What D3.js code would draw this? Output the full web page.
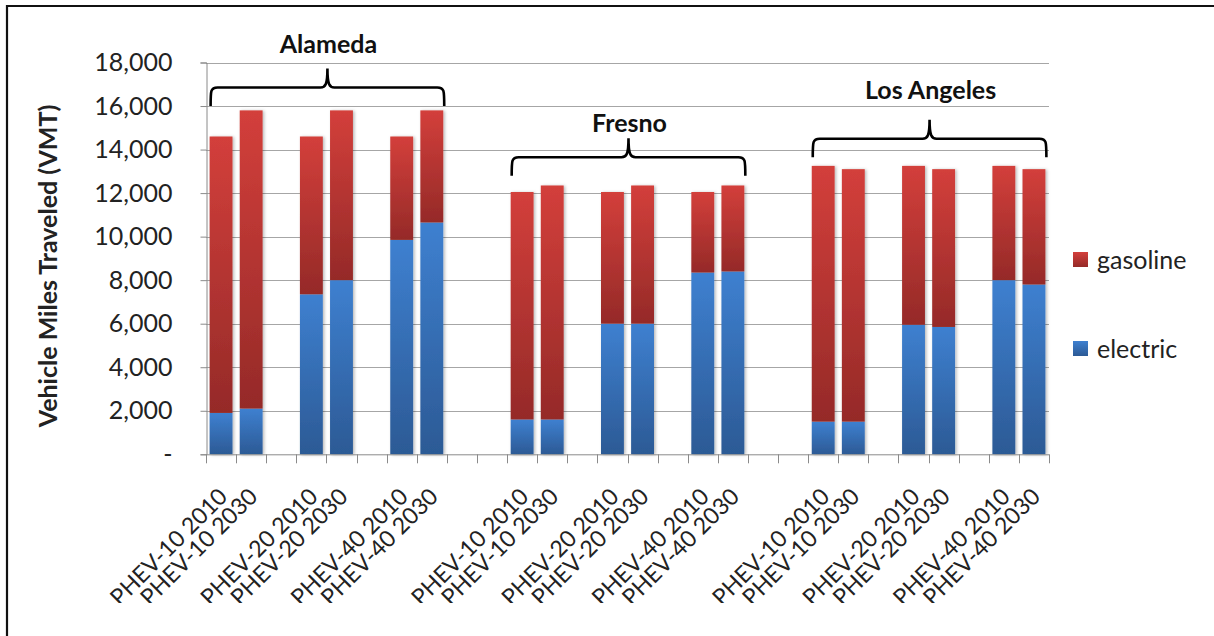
<!DOCTYPE html>
<html>
<head>
<meta charset="utf-8">
<script src="https://cdn.jsdelivr.net/npm/d3@7/dist/d3.min.js"></script>
<style>
  html, body { margin: 0; padding: 0; background: #fff; }
  svg { display: block; font-family: Carlito, Calibri, Lato, "Open Sans", sans-serif; }
</style>
</head>
<body>
<svg id="chart" width="1214" height="636"></svg>
<script>
// ---------- data ----------
const regions = ["Alameda", "Fresno", "Los Angeles"];
const scenarioPairs = [
  ["PHEV-10 2010", "PHEV-10 2030"],
  ["PHEV-20 2010", "PHEV-20 2030"],
  ["PHEV-40 2010", "PHEV-40 2030"]
];
const seriesKeys = ["electric", "gasoline"];
const alamedaElectric = [1900, 2100, 7350, 8000, 9850, 10650];
const alamedaGasoline = [12700, 13700, 7250, 7800, 4750, 5150];
const fresnoElectric = [1600, 1600, 6000, 6000, 8350, 8400];
const fresnoGasoline = [10450, 10750, 6050, 6350, 3700, 3950];
const laElectric = [1500, 1500, 5950, 5850, 8000, 7800];
const laGasoline = [11750, 11600, 7300, 7250, 5250, 5300];
const yTicks = [0, 2000, 4000, 6000, 8000, 10000, 12000, 14000, 16000, 18000];
const yTitle = "Vehicle Miles Traveled (VMT)";
// brace base level (in VMT units) for each region annotation
const braceLevel = [16000, 12800, 13650];

const electricByRegion = [alamedaElectric, fresnoElectric, laElectric];
const gasolineByRegion = [alamedaGasoline, fresnoGasoline, laGasoline];

// Build category slots (blank gaps between pairs and regions, as in the source sheet)
const slots = [];
regions.forEach((r, ri) => {
  if (ri > 0) { slots.push({ label: "", gap: true }); slots.push({ label: "", gap: true }); }
  let k = 0;
  scenarioPairs.forEach((pair, pi) => {
    if (pi > 0) slots.push({ label: "", gap: true });
    pair.forEach(lab => {
      slots.push({ label: lab, region: ri, electric: electricByRegion[ri][k], gasoline: gasolineByRegion[ri][k] });
      k++;
    });
  });
});
slots.forEach((s, i) => s.id = i);

// ---------- layout ----------
const W = 1214, H = 636;
const plot = { left: 206, right: 1049, top: 62.5, bottom: 454.3 };
const svg = d3.select("#chart");

const defs = svg.append("defs");
function grad(id, c0, c1) {
  const g = defs.append("linearGradient").attr("id", id).attr("x1", 0).attr("y1", 0).attr("x2", 0).attr("y2", 1);
  g.append("stop").attr("offset", "0%").attr("stop-color", c0);
  g.append("stop").attr("offset", "100%").attr("stop-color", c1);
}
grad("gRed", "#d33f3b", "#952a28");
grad("gBlue", "#3e80d0", "#2c5a95");
const f = defs.append("filter").attr("id", "shadow").attr("x", "-20%").attr("y", "-5%").attr("width", "150%").attr("height", "110%");
f.append("feDropShadow").attr("dx", 1.5).attr("dy", 0.5).attr("stdDeviation", 1.6).attr("flood-color", "#000").attr("flood-opacity", 0.28);
defs.append("clipPath").attr("id", "labelClip").append("rect").attr("x", 0).attr("y", 0).attr("width", W).attr("height", 603);

// border (top and left)
svg.append("line").attr("x1", 6).attr("x2", W).attr("y1", 6).attr("y2", 6).attr("stroke", "#111").attr("stroke-width", 2.2);
svg.append("line").attr("x1", 7).attr("x2", 7).attr("y1", 5).attr("y2", H).attr("stroke", "#111").attr("stroke-width", 2.2);

const x = d3.scaleBand().domain(slots.map(s => s.id)).range([plot.left, plot.right]).paddingInner(0.24).paddingOuter(0.12);
const y = d3.scaleLinear().domain([0, 18000]).range([plot.bottom, plot.top]);
const color = { electric: "url(#gBlue)", gasoline: "url(#gRed)" };

// gridlines
svg.append("g").selectAll("line").data(yTicks.filter(t => t > 0)).join("line")
  .attr("x1", plot.left).attr("x2", plot.right)
  .attr("y1", d => Math.round(y(d)) + 0.5).attr("y2", d => Math.round(y(d)) + 0.5)
  .attr("stroke", "#a6a6a6").attr("stroke-width", 1);

// y axis
const yAxis = d3.axisLeft(y).tickValues(yTicks).tickSize(6).tickPadding(28)
  .tickFormat(d => d === 0 ? "-" : d3.format(",")(d));
const yg = svg.append("g").attr("transform", `translate(${plot.left + 0.5},0)`).call(yAxis);
yg.select(".domain").attr("stroke", "#8a8a8a");
yg.selectAll(".tick line").attr("stroke", "#8a8a8a");
yg.selectAll(".tick text").attr("font-size", 25).attr("fill", "#222").attr("font-family", "Lato, sans-serif");

// bars
const barData = slots.filter(s => !s.gap);
const stack = d3.stack().keys(seriesKeys)(barData);
const barsG = svg.append("g").attr("filter", "url(#shadow)");
stack.forEach(layer => {
  barsG.append("g").selectAll("rect").data(layer).join("rect")
    .attr("x", d => x(d.data.id))
    .attr("width", x.bandwidth())
    .attr("y", d => y(d[1]))
    .attr("height", d => y(d[0]) - y(d[1]))
    .attr("fill", color[layer.key]);
});

// x axis
const step = x.step();
const edges = slots.map(s => x(s.id) - (step - x.bandwidth()) / 2).concat([plot.right]);
const xg = svg.append("g");
xg.append("line").attr("x1", plot.left).attr("x2", plot.right).attr("y1", plot.bottom + 0.5).attr("y2", plot.bottom + 0.5).attr("stroke", "#8a8a8a");
xg.selectAll("line.t").data(edges).join("line").attr("class", "t")
  .attr("x1", d => Math.round(d) + 0.5).attr("x2", d => Math.round(d) + 0.5)
  .attr("y1", plot.bottom).attr("y2", plot.bottom + 9).attr("stroke", "#8a8a8a");
xg.append("g").attr("clip-path", "url(#labelClip)")
  .selectAll("text").data(barData).join("text")
  .attr("transform", d => `translate(${x(d.id) + x.bandwidth() / 2 + 2},${plot.bottom + 38}) rotate(-45)`)
  .attr("text-anchor", "end").attr("dy", "0.35em")
  .attr("font-size", 23).attr("fill", "#222").attr("font-family", "Lato, sans-serif")
  .text(d => d.label);

// y title
svg.append("text").attr("transform", `translate(48,266) rotate(-90)`)
  .attr("text-anchor", "middle").attr("dy", "0.35em")
  .attr("font-size", 25).attr("font-weight", "bold").attr("fill", "#222").attr("font-family", "Lato, sans-serif")
  .text(yTitle);

// region braces + labels
const labelBaseline = [53, 132, 99];
regions.forEach((r, ri) => {
  const inR = barData.filter(d => d.region === ri);
  const x0 = x(inR[0].id) + 1;
  const x1 = x(inR[inR.length - 1].id) + x.bandwidth() + 1;
  const base = y(braceLevel[ri]);
  const hy = base - 18.5, tip = hy - 19;
  const xm = (x0 + x1) / 2, rr = 7;
  const p = `M${x0},${base} C${x0},${hy + 3} ${x0},${hy} ${x0 + rr},${hy} L${xm - rr},${hy} ` +
            `C${xm - 2},${hy} ${xm},${hy - 3} ${xm},${tip} C${xm},${hy - 3} ${xm + 2},${hy} ${xm + rr},${hy} ` +
            `L${x1 - rr},${hy} C${x1},${hy} ${x1},${hy + 3} ${x1},${base}`;
  svg.append("path").attr("d", p).attr("fill", "none").attr("stroke", "#000").attr("stroke-width", 2.6);
  svg.append("text").attr("x", xm + 1).attr("y", labelBaseline[ri])
    .attr("text-anchor", "middle").attr("font-size", 25).attr("font-weight", "bold").attr("fill", "#111")
    .attr("font-family", "Lato, sans-serif").text(r);
});

// legend
const legendItems = [["gasoline", "url(#gRed)"], ["electric", "url(#gBlue)"]];
const lg = svg.append("g");
legendItems.forEach(([name, fill], i) => {
  const cy = 260 + i * 89;
  lg.append("rect").attr("x", 1073).attr("y", cy - 8).attr("width", 15).attr("height", 15).attr("fill", fill);
  lg.append("text").attr("x", 1097).attr("y", cy).attr("dy", "0.35em")
    .attr("font-size", 25).attr("fill", "#222").attr("font-family", "Lato, sans-serif").text(name);
});
</script>
</body>
</html>
